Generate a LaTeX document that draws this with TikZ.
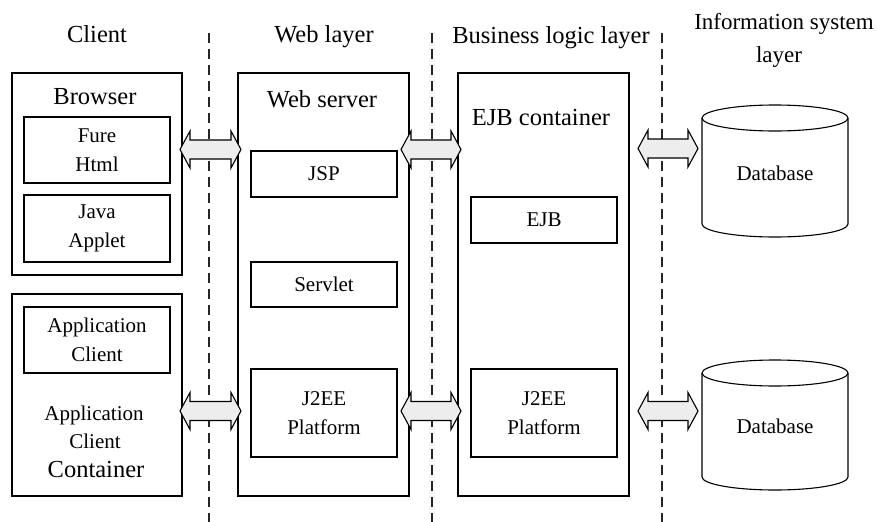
\documentclass[tikz,border=0pt]{standalone}
\usepackage{fontspec}
\setmainfont{Liberation Serif}
\begin{document}
\begin{tikzpicture}[x=1pt,y=-1pt,
  bigtxt/.style={font=\fontsize{24.5}{29}\selectfont},
  smalltxt/.style={font=\fontsize{21}{29}\selectfont},
  box/.style={draw=black,line width=1.1pt,fill=white,inner sep=0pt,outer sep=0pt,align=center,smalltxt},
  lbl/.style={inner sep=0pt,anchor=base,align=center},
  sep/.style={draw=black!85,line width=1.1pt,dash pattern=on 10pt off 6pt},
  arrowfill/.style={draw=black,line width=1.1pt,fill=black!7,line join=miter},
  cyl/.style={draw=black,line width=1.1pt}
]
\useasboundingbox (0,0) rectangle (876,522);
\fill[white] (0,0) rectangle (876,522);

% dashed separators
\coordinate (s1t) at (209,33); \coordinate (s1b) at (209,522);
\coordinate (s2t) at (432,33); \coordinate (s2b) at (432,522);
\coordinate (s3t) at (662,33); \coordinate (s3b) at (662,522);
\draw[sep] (s1t) -- (s1b);
\draw[sep] (s2t) -- (s2b);
\draw[sep] (s3t) -- (s3b);

% headers
\node[lbl,bigtxt] (hclient) at (97,42) {Client};
\node[lbl,bigtxt] (hweb) at (324,42) {Web layer};
\node[lbl,bigtxt] (hbus) at (551,43) {Business logic layer};
\node[lbl,font=\fontsize{23}{29}\selectfont] (hinfo) at (784,30) {Information system};
\node[lbl,font=\fontsize{23}{29}\selectfont] (hinfo2) at (779,62) {layer};

% client column
\node[box,minimum width=170,minimum height=202] (browser) at (97,174) {};
\node[lbl,bigtxt] (browserlbl) at (95,104) {Browser};
\node[box,minimum width=146,minimum height=66] (fure) at (97,150) {Fure\\Html};
\node[box,minimum width=146,minimum height=67] (java) at (97,228.5) {Java\\Applet};

\node[box,minimum width=170,minimum height=202] (appcont) at (97,395) {};
\node[box,minimum width=146,minimum height=66] (appcl) at (97,340) {Application\\Client};
\node[lbl,smalltxt] (appcontlbl1) at (94,420) {Application};
\node[lbl,smalltxt] (appcontlbl2) at (95,448) {Client};
\node[lbl,bigtxt] (appcontlbl3) at (96,477) {Container};

% web column
\node[box,minimum width=171,minimum height=423] (web) at (323.5,284.5) {};
\node[lbl,bigtxt] (weblbl) at (322,107) {Web server};
\node[box,minimum width=146,minimum height=46] (jsp) at (324,174) {JSP};
\node[box,minimum width=146,minimum height=45] (servlet) at (324,284.5) {Servlet};
\node[box,minimum width=146,minimum height=88] (j2eea) at (324,413) {J2EE\\Platform};

% business column
\node[box,minimum width=171,minimum height=423] (ejbc) at (543.5,284.5) {};
\node[lbl,bigtxt] (ejbclbl) at (541,125) {EJB container};
\node[box,minimum width=146,minimum height=46] (ejb) at (544,220) {EJB};
\node[box,minimum width=146,minimum height=88] (j2eeb) at (544,413) {J2EE\\Platform};

% databases
\draw[cyl,fill=white] (702,118) -- (702,224) arc[start angle=180,end angle=0,x radius=73,y radius=13] -- (848,118);
\draw[cyl,fill=white] (775,118) ellipse[x radius=73,y radius=13];
\node[smalltxt,inner sep=0pt] (db1) at (775,173) {Database};

\draw[cyl,fill=white] (702,373) -- (702,477) arc[start angle=180,end angle=0,x radius=73,y radius=13] -- (848,373);
\draw[cyl,fill=white] (775,373) ellipse[x radius=73,y radius=13];
\node[smalltxt,inner sep=0pt] (db2) at (775,426) {Database};

% double arrows
\newcommand{\dbarr}[3]{%
  \draw[arrowfill] (#1,#3) -- ({#1+10},{#3-18.5}) -- ({#1+10},{#3-9.5}) -- ({#2-10},{#3-9.5}) -- ({#2-10},{#3-18.5}) -- (#2,#3) -- ({#2-10},{#3+18.5}) -- ({#2-10},{#3+9.5}) -- ({#1+10},{#3+9.5}) -- ({#1+10},{#3+18.5}) -- cycle;}
\dbarr{180}{241}{149.5}
\dbarr{401}{461}{149.5}
\dbarr{638}{698}{148.5}
\dbarr{180}{241}{411}
\dbarr{401}{461}{411}
\dbarr{638}{698}{411}
\end{tikzpicture}
\end{document}
